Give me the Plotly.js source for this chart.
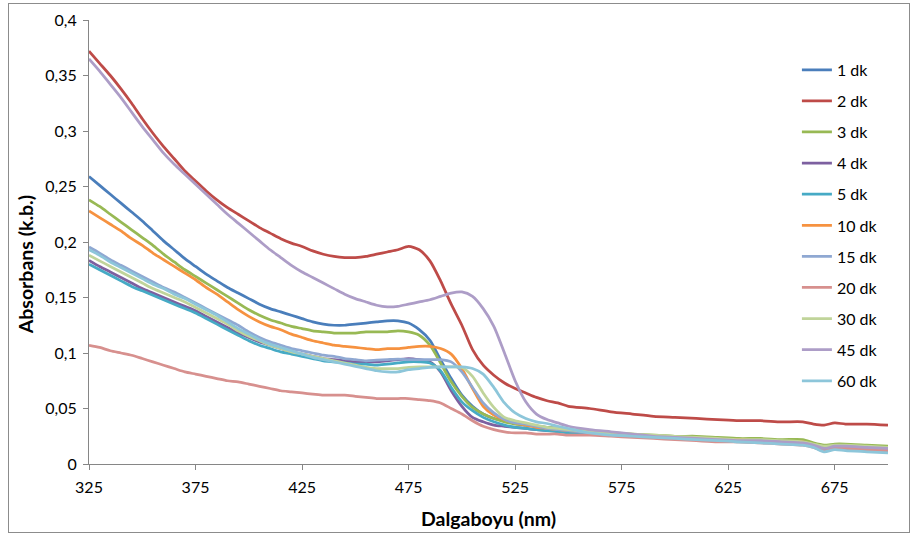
<!DOCTYPE html>
<html>
<head>
<meta charset="utf-8">
<script src="https://cdn.plot.ly/plotly-3.0.1.min.js"></script>
<style>
  html, body { margin: 0; padding: 0; background: #ffffff; }
  #wrap { position: relative; width: 911px; height: 535px; }
  #chart { position: absolute; left: 0; top: 0; width: 911px; height: 535px; }
  #frame { position: absolute; left: 8px; top: 3px; width: 900px; height: 528px; border: 1px solid #8c8c8c; pointer-events: none; }
</style>
</head>
<body>
<div id="wrap"><div id="chart"></div><div id="frame"></div></div>
<script>
// Wavelength grid (nm)
const wavelength = [325,330,335,340,345,350,355,360,365,370,375,380,385,390,395,400,405,410,415,420,425,430,435,440,445,450,455,460,465,470,475,480,485,490,495,500,505,510,515,520,525,530,535,540,545,550,560,570,580,590,600,610,620,630,640,650,660,665,670,675,680,690,700];

const seriesNames = ["1 dk","2 dk","3 dk","4 dk","5 dk","10 dk","15 dk","20 dk","30 dk","45 dk","60 dk"];
const seriesColors = ["#4A7EBB","#BE4B48","#98B954","#7D60A0","#46AAC5","#F69240","#8FA8D2","#D7908E","#C0D49A","#AD9DC7","#8DC6DA"];

const dk1 = [0.259,0.251,0.243,0.235,0.227,0.219,0.210,0.201,0.193,0.185,0.178,0.171,0.165,0.159,0.154,0.149,0.144,0.140,0.137,0.134,0.131,0.128,0.126,0.125,0.125,0.126,0.127,0.128,0.129,0.129,0.127,0.121,0.1115,0.094,0.077,0.062,0.052,0.045,0.041,0.039,0.037,0.035,0.034,0.033,0.032,0.031,0.029,0.027,0.026,0.025,0.024,0.023,0.022,0.021,0.021,0.020,0.019,0.017,0.015,0.016,0.016,0.015,0.014];
const dk2 = [0.372,0.361,0.350,0.338,0.325,0.311,0.298,0.286,0.275,0.264,0.255,0.246,0.238,0.231,0.225,0.219,0.213,0.208,0.203,0.199,0.196,0.192,0.189,0.187,0.186,0.186,0.187,0.189,0.191,0.193,0.196,0.193,0.183,0.165,0.144,0.125,0.103,0.089,0.080,0.073,0.068,0.064,0.060,0.057,0.055,0.052,0.050,0.047,0.045,0.043,0.042,0.041,0.040,0.039,0.039,0.038,0.038,0.036,0.035,0.037,0.036,0.036,0.035];
const dk3 = [0.238,0.232,0.225,0.218,0.211,0.204,0.197,0.189,0.182,0.175,0.169,0.163,0.157,0.151,0.145,0.139,0.134,0.130,0.127,0.124,0.122,0.120,0.119,0.118,0.118,0.118,0.119,0.119,0.119,0.120,0.119,0.116,0.107,0.091,0.074,0.061,0.051,0.045,0.041,0.038,0.036,0.035,0.034,0.033,0.032,0.031,0.029,0.028,0.027,0.026,0.025,0.025,0.024,0.023,0.023,0.022,0.022,0.019,0.017,0.018,0.018,0.017,0.016];
const dk4 = [0.1835,0.178,0.173,0.168,0.163,0.158,0.154,0.150,0.146,0.142,0.138,0.133,0.128,0.123,0.118,0.114,0.110,0.107,0.104,0.101,0.099,0.097,0.095,0.094,0.093,0.092,0.092,0.092,0.093,0.094,0.095,0.094,0.092,0.083,0.066,0.052,0.042,0.038,0.035,0.034,0.033,0.032,0.031,0.030,0.030,0.029,0.028,0.027,0.026,0.025,0.024,0.023,0.022,0.021,0.021,0.020,0.019,0.017,0.015,0.016,0.016,0.015,0.014];
const dk5 = [0.180,0.175,0.170,0.165,0.160,0.156,0.152,0.148,0.144,0.140,0.136,0.131,0.126,0.121,0.116,0.111,0.107,0.104,0.101,0.099,0.097,0.095,0.093,0.092,0.091,0.090,0.090,0.089,0.090,0.091,0.092,0.092,0.091,0.084,0.069,0.056,0.048,0.042,0.038,0.035,0.033,0.032,0.031,0.030,0.029,0.028,0.027,0.026,0.025,0.024,0.023,0.022,0.021,0.020,0.020,0.019,0.018,0.016,0.013,0.015,0.014,0.013,0.012];
const dk10 = [0.228,0.222,0.216,0.210,0.203,0.197,0.190,0.184,0.178,0.172,0.166,0.159,0.153,0.146,0.139,0.133,0.128,0.124,0.121,0.117,0.114,0.111,0.109,0.107,0.106,0.105,0.104,0.103,0.104,0.104,0.105,0.106,0.106,0.104,0.099,0.086,0.068,0.052,0.044,0.040,0.037,0.035,0.033,0.032,0.031,0.030,0.029,0.027,0.026,0.025,0.024,0.023,0.022,0.022,0.021,0.020,0.020,0.017,0.015,0.016,0.016,0.015,0.014];
const dk15 = [0.1955,0.190,0.184,0.179,0.174,0.169,0.164,0.159,0.155,0.150,0.145,0.140,0.135,0.130,0.125,0.119,0.114,0.110,0.107,0.104,0.102,0.100,0.098,0.097,0.095,0.094,0.093,0.0935,0.094,0.0945,0.094,0.094,0.094,0.094,0.092,0.083,0.069,0.055,0.046,0.040,0.037,0.036,0.034,0.032,0.031,0.030,0.028,0.027,0.026,0.025,0.024,0.023,0.022,0.021,0.021,0.020,0.019,0.017,0.015,0.016,0.016,0.015,0.014];
const dk20 = [0.107,0.105,0.102,0.100,0.098,0.095,0.092,0.089,0.086,0.083,0.081,0.079,0.077,0.075,0.074,0.072,0.070,0.068,0.066,0.065,0.064,0.063,0.062,0.062,0.062,0.061,0.060,0.059,0.059,0.059,0.059,0.058,0.057,0.055,0.050,0.045,0.039,0.034,0.031,0.029,0.028,0.028,0.027,0.027,0.027,0.026,0.026,0.025,0.024,0.023,0.022,0.021,0.020,0.020,0.019,0.018,0.017,0.015,0.012,0.014,0.014,0.013,0.012];
const dk30 = [0.188,0.183,0.178,0.173,0.168,0.163,0.158,0.154,0.150,0.146,0.141,0.136,0.131,0.126,0.120,0.115,0.111,0.107,0.104,0.101,0.099,0.097,0.095,0.093,0.091,0.089,0.087,0.086,0.086,0.086,0.087,0.0875,0.0875,0.0875,0.0875,0.087,0.079,0.064,0.051,0.042,0.039,0.037,0.035,0.033,0.032,0.031,0.029,0.028,0.027,0.026,0.025,0.024,0.023,0.022,0.022,0.021,0.020,0.018,0.016,0.017,0.017,0.016,0.015];
const dk45 = [0.365,0.354,0.342,0.330,0.317,0.304,0.292,0.280,0.270,0.261,0.252,0.243,0.234,0.225,0.217,0.209,0.201,0.193,0.186,0.179,0.173,0.168,0.163,0.158,0.153,0.149,0.146,0.143,0.1415,0.142,0.144,0.146,0.148,0.151,0.154,0.155,0.151,0.140,0.124,0.100,0.075,0.056,0.045,0.040,0.037,0.034,0.031,0.029,0.027,0.025,0.024,0.023,0.022,0.021,0.021,0.020,0.019,0.017,0.014,0.016,0.016,0.015,0.014];
const dk60 = [0.193,0.188,0.182,0.177,0.172,0.167,0.162,0.158,0.153,0.149,0.144,0.139,0.134,0.128,0.122,0.117,0.112,0.108,0.105,0.102,0.099,0.096,0.094,0.092,0.090,0.088,0.086,0.084,0.083,0.083,0.085,0.086,0.087,0.0875,0.0875,0.0875,0.086,0.081,0.069,0.055,0.046,0.041,0.038,0.0365,0.034,0.032,0.028,0.026,0.025,0.024,0.023,0.022,0.021,0.020,0.019,0.018,0.017,0.015,0.011,0.013,0.012,0.011,0.010];

const seriesValues = [dk1, dk2, dk3, dk4, dk5, dk10, dk15, dk20, dk30, dk45, dk60];

const xTickVals = [325,375,425,475,525,575,625,675];
const yTickVals = [0,0.05,0.1,0.15,0.2,0.25,0.3,0.35,0.4];
const xTitle = 'Dalgaboyu (nm)';
const yTitle = 'Absorbans (k.b.)';

const FONT = "Lato, 'Open Sans', 'DejaVu Sans', sans-serif";

const traces = seriesNames.map((name, i) => ({
  type: 'scatter',
  mode: 'lines',
  name: name,
  x: wavelength,
  y: seriesValues[i],
  legendgroup: 'g' + i,
  line: { color: seriesColors[i], width: 2.75, shape: 'spline', smoothing: 0.7 }
}));

const layout = {
  width: 911,
  height: 535,
  margin: { l: 89, r: 23, t: 20, b: 71, pad: 0 },
  paper_bgcolor: '#ffffff',
  plot_bgcolor: '#ffffff',
  separators: ',.',
  font: { family: FONT, size: 16, color: '#000000' },
  showlegend: true,
  legend: {
    x: 0.886, y: 0.926, xanchor: 'left', yanchor: 'top',
    bgcolor: 'rgba(255,255,255,0)',
    font: { family: FONT, size: 16, color: '#000000' },
    traceorder: 'grouped',
    tracegroupgap: 7.3,
    itemwidth: 30
  },
  xaxis: {
    range: [325, 700],
    tickmode: 'array',
    tickvals: xTickVals,
    ticktext: xTickVals.map(String),
    ticks: 'outside', ticklen: 5, tickwidth: 1, tickcolor: '#868686',
    ticklabelstandoff: 4,
    showline: true, linecolor: '#868686', linewidth: 1,
    showgrid: false, zeroline: false,
    tickfont: { family: FONT, size: 16, color: '#000000' }
  },
  yaxis: {
    range: [0, 0.4],
    tickmode: 'array',
    tickvals: yTickVals,
    ticktext: yTickVals.map(v => String(v).replace('.', ',')),
    ticks: 'outside', ticklen: 5, tickwidth: 1, tickcolor: '#868686',
    ticklabelstandoff: 3,
    showline: true, linecolor: '#868686', linewidth: 1,
    showgrid: false, zeroline: false,
    tickfont: { family: FONT, size: 16, color: '#000000' }
  },
  annotations: [
    { text: '<b>' + xTitle + '</b>', xref: 'paper', yref: 'paper', x: 0.4994, y: -0.1229,
      xanchor: 'center', yanchor: 'middle', showarrow: false,
      font: { family: FONT, size: 19.5, color: '#000000' } },
    { text: '<b>' + yTitle + '</b>', xref: 'paper', yref: 'paper', x: -0.0801, y: 0.4476,
      xanchor: 'center', yanchor: 'middle', showarrow: false, textangle: -90,
      font: { family: FONT, size: 19.5, color: '#000000' } }
  ]
};

Plotly.newPlot('chart', traces, layout, { displayModeBar: false, staticPlot: true });
</script>
</body>
</html>
